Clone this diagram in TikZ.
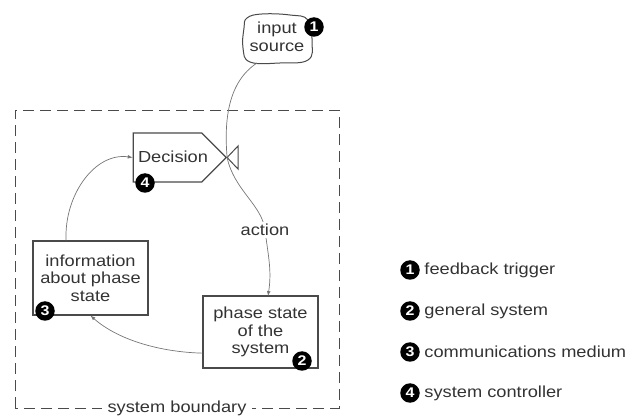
\documentclass[tikz,border=0pt]{standalone}
\usepackage{fontspec}
\setmainfont[FakeStretch=1.14]{Liberation Sans}
\usepackage{xcolor}
\usetikzlibrary{shapes.symbols,positioning}

\definecolor{linegray}{HTML}{757575}
\definecolor{boxgray}{HTML}{4A4A4A}
\definecolor{textgray}{HTML}{333333}

\tikzset{
  state/.style={draw=boxgray, line width=1.2pt, fill=white, align=center, minimum width=115pt, inner sep=2pt},
  badge/.style={circle, fill=black, text=white, font=\bfseries\fontsize{14}{14}\selectfont, inner sep=0pt, minimum size=19.5pt},
  flow/.style={draw=linegray, line width=0.7pt, -latex},
}

\begin{document}
\begin{tikzpicture}[x=1pt, y=-1pt, font=\fontsize{16}{17.5}\selectfont, text=textgray]
\useasboundingbox (0,0) rectangle (633,417);

% the boundary with its label on the bottom edge
\draw[boxgray, line width=0.9pt, dash pattern=on 11pt off 6pt] (15,408) -- (15,110) -- (339,110) -- (339,408) -- cycle;
\node[fill=white, inner xsep=6pt, inner ysep=1pt] (bound) at (177,408) {system boundary};

% input source, a loose cloud
\draw[boxgray, line width=1pt] plot[smooth cycle, tension=0.7] coordinates {(247,18) (262,14) (290,15) (308,20) (312,42) (308,60) (280,63) (250,62) (243,48) (244,28)};
\node[align=center] (src) at (277,37) {input\\source};
\coordinate (srcout) at (257,63);
\node[badge] (b1) at (314,27) {1};

% decision box with the valve on its tip
\node[signal, signal to=east, signal pointer angle=90, draw=boxgray, line width=1.2pt,
      minimum width=93pt, minimum height=49pt, inner sep=0pt] (dec) at (167.5,157.5) {};
\node (dectext) at (173,157) {Decision};
\draw[boxgray, line width=1pt] (dec.east) -- (238,146) -- (238,169) -- cycle;
\node[badge] (b4) at (145,183) {4};

\node[state, minimum height=74pt] (info) at (90.5,278) {information\\about phase\\state};
\node[badge] (b3) at (45,311) {3};

\node[state, minimum height=72pt] (phase) at (260.5,332) {phase state\\of the\\system};
\node[badge] (b2) at (302,361) {2};

% connectors
\coordinate (actmid) at (265,230);
\coordinate (pin) at (268,296);
\draw[flow] (srcout) .. controls (228,82) and (224,120) .. (dec.east)
  .. controls (234,190) and (262,205) .. (actmid)
  .. controls (268,255) and (272,270) .. (pin);
\node[fill=white, inner sep=2pt] (act) at (actmid) {action};

\draw[flow] (phase.200) .. controls (160,352) and (118,340) .. (info.south);
\draw[flow] (info.123) .. controls (64,195) and (95,152) .. (dec.west);

% legend
\foreach \n/\txt in {1/feedback trigger, 2/general system, 3/communications medium, 4/system controller} {
  \node[badge] (key\n) at (410,229+41*\n) {\n};
  \node[right=1pt of key\n] (keytext\n) {\txt};
}
\end{tikzpicture}
\end{document}
